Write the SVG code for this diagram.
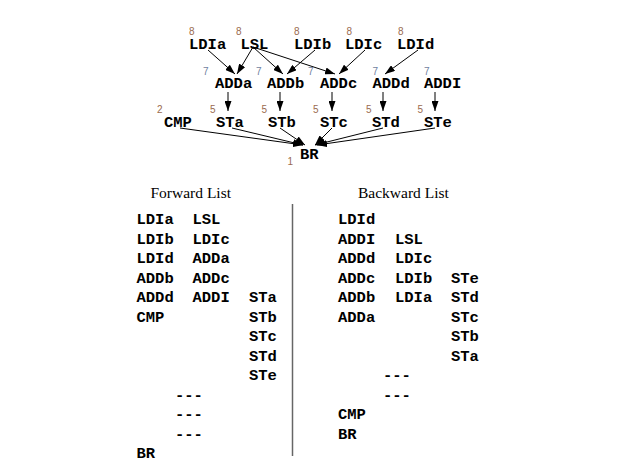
<svg xmlns="http://www.w3.org/2000/svg" width="636" height="472" viewBox="0 0 636 472">
<style>
.n{font-family:"Liberation Mono","Courier New",monospace;font-weight:bold;font-size:15.5px;fill:#000}
.w{font-family:"Liberation Sans",Arial,sans-serif;font-size:10px;fill:#9a6b4f}
.w7{font-family:"Liberation Sans",Arial,sans-serif;font-size:10px;fill:#6f7f9f}
.t{font-family:"Liberation Serif","Times New Roman",serif;font-size:15.5px;fill:#000}
.e{stroke:#000;stroke-width:1;fill:none;marker-end:url(#ah)}
</style>
<defs>
<marker id="ah" viewBox="0 0 10 7" refX="10" refY="3.5" markerWidth="10" markerHeight="7" orient="auto" markerUnits="userSpaceOnUse"><path d="M0,0 L10,3.5 L0,7 z" fill="#000"/></marker>
</defs>
<rect width="636" height="472" fill="#fff"/>
<g id="connectors">
<line class="e" x1="208" y1="50" x2="235" y2="74"/>
<line class="e" x1="253" y1="47" x2="237" y2="74"/>
<line class="e" x1="253" y1="47" x2="283" y2="74"/>
<line class="e" x1="315" y1="50" x2="287" y2="74"/>
<line class="e" x1="253" y1="47" x2="335" y2="74"/>
<line class="e" x1="365" y1="50" x2="339" y2="74"/>
<line class="e" x1="418" y1="50" x2="385" y2="74"/>
<line class="e" x1="228" y1="92" x2="228" y2="111"/>
<line class="e" x1="280" y1="92" x2="280" y2="111"/>
<line class="e" x1="332" y1="92" x2="332" y2="111"/>
<line class="e" x1="383" y1="92" x2="383" y2="111"/>
<line class="e" x1="435" y1="92" x2="435" y2="111"/>
<line class="e" x1="180" y1="128" x2="303" y2="145"/>
<line class="e" x1="232" y1="128" x2="303" y2="145"/>
<line class="e" x1="280" y1="128" x2="305" y2="145"/>
<line class="e" x1="332" y1="128" x2="315" y2="145"/>
<line class="e" x1="383" y1="128" x2="315" y2="145"/>
<line class="e" x1="435" y1="128" x2="317" y2="145"/>
</g>
<g id="LDIa"><text class="w" x="189" y="35">8</text><text class="n" x="189" y="49">LDIa</text></g>
<g id="LSL"><text class="w" x="236" y="35">8</text><text class="n" x="240.5" y="49">LSL</text></g>
<g id="LDIb"><text class="w" x="294" y="35">8</text><text class="n" x="294" y="49">LDIb</text></g>
<g id="LDIc"><text class="w" x="346.5" y="35">8</text><text class="n" x="345" y="49">LDIc</text></g>
<g id="LDId"><text class="w" x="398" y="35">8</text><text class="n" x="397" y="49">LDId</text></g>
<g id="ADDa"><text class="w7" x="203" y="74.5">7</text><text class="n" x="215" y="88">ADDa</text></g>
<g id="ADDb"><text class="w7" x="256" y="74.5">7</text><text class="n" x="267" y="88">ADDb</text></g>
<g id="ADDc"><text class="w7" x="308" y="74.5">7</text><text class="n" x="320" y="88">ADDc</text></g>
<g id="ADDd"><text class="w7" x="372.5" y="74.5">7</text><text class="n" x="372.5" y="88">ADDd</text></g>
<g id="ADDI"><text class="w7" x="424" y="74.5">7</text><text class="n" x="424" y="88">ADDI</text></g>
<g id="CMP"><text class="w" x="157" y="113">2</text><text class="n" x="164" y="127">CMP</text></g>
<g id="STa"><text class="w" x="210" y="113">5</text><text class="n" x="216" y="127">STa</text></g>
<g id="STb"><text class="w" x="261.5" y="113">5</text><text class="n" x="268" y="127">STb</text></g>
<g id="STc"><text class="w" x="313" y="113">5</text><text class="n" x="320" y="127">STc</text></g>
<g id="STd"><text class="w" x="366" y="113">5</text><text class="n" x="372" y="127">STd</text></g>
<g id="STe"><text class="w" x="417.5" y="113">5</text><text class="n" x="424" y="127">STe</text></g>
<g id="BR"><text class="w" x="287.5" y="164.5">1</text><text class="n" x="300" y="158.5">BR</text></g>
<g id="forward-list">
<text class="t" x="150.5" y="198">Forward List</text>
<text class="n" x="136.5" y="224">LDIa</text><text class="n" x="192.5" y="224">LSL</text>
<text class="n" x="136.5" y="243.5">LDIb</text><text class="n" x="192.5" y="243.5">LDIc</text>
<text class="n" x="136.5" y="263">LDId</text><text class="n" x="192.5" y="263">ADDa</text>
<text class="n" x="136.5" y="282.5">ADDb</text><text class="n" x="192.5" y="282.5">ADDc</text>
<text class="n" x="136.5" y="302">ADDd</text><text class="n" x="192.5" y="302">ADDI</text><text class="n" x="249" y="302">STa</text>
<text class="n" x="136.5" y="321.5">CMP</text><text class="n" x="249" y="321.5">STb</text>
<text class="n" x="249" y="341">STc</text>
<text class="n" x="249" y="360.5">STd</text>
<text class="n" x="249" y="380">STe</text>
<text class="n" x="175" y="399.5">---</text>
<text class="n" x="175" y="419">---</text>
<text class="n" x="175" y="438.5">---</text>
<text class="n" x="136.5" y="458">BR</text>
</g>
<line x1="292.5" y1="204" x2="292.5" y2="456" stroke="#666" stroke-width="1.5"/>
<g id="backward-list">
<text class="t" x="358" y="198">Backward List</text>
<text class="n" x="338" y="224">LDId</text>
<text class="n" x="338" y="243.5">ADDI</text><text class="n" x="395" y="243.5">LSL</text>
<text class="n" x="338" y="263">ADDd</text><text class="n" x="395" y="263">LDIc</text>
<text class="n" x="338" y="282.5">ADDc</text><text class="n" x="395" y="282.5">LDIb</text><text class="n" x="451" y="282.5">STe</text>
<text class="n" x="338" y="302">ADDb</text><text class="n" x="395" y="302">LDIa</text><text class="n" x="451" y="302">STd</text>
<text class="n" x="338" y="321.5">ADDa</text><text class="n" x="451" y="321.5">STc</text>
<text class="n" x="451" y="341">STb</text>
<text class="n" x="451" y="360.5">STa</text>
<text class="n" x="383" y="380">---</text>
<text class="n" x="383" y="399.5">---</text>
<text class="n" x="338" y="419">CMP</text>
<text class="n" x="338" y="438.5">BR</text>
</g>
</svg>
